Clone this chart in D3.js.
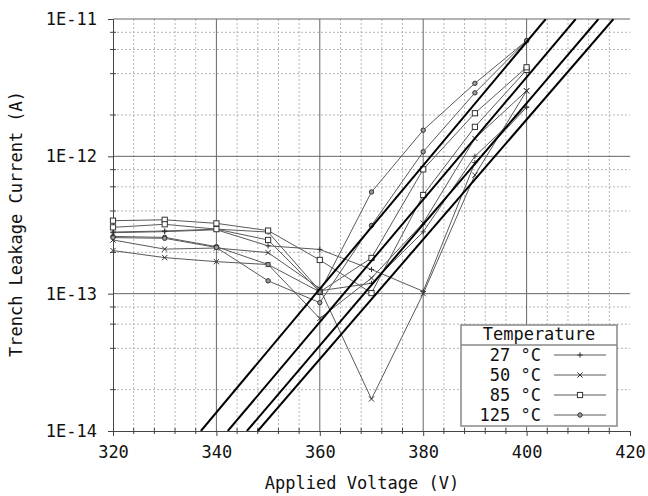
<!DOCTYPE html>
<html>
<head>
<meta charset="utf-8">
<script src="https://cdn.jsdelivr.net/npm/d3@7"></script>
<style>
  body { margin: 0; background: #fff; }
  svg text { font-family: "DejaVu Sans Mono", monospace; fill: #111; }
</style>
</head>
<body>
<svg id="chart" width="648" height="496"></svg>
<script>
// Data
const voltages = [320, 330, 340, 350, 360, 370, 380, 390, 400];
const tempLabels = ['27 °C', '50 °C', '85 °C', '125 °C'];

// two devices per temperature, current in A
const i27a = [2.81e-13, 2.86e-13, 2.95e-13, 2.81e-13, 1.05e-13, 1.19e-13, 2.82e-13, 1.0e-12, 2.28e-12];
const i27b = [2.78e-13, 2.83e-13, 2.92e-13, 2.23e-13, 2.1e-13, 1.5e-13, 1.04e-13, 9.0e-13, 2.28e-12];
const i50a = [2.46e-13, 2.11e-13, 2.15e-13, 1.99e-13, 1.09e-13, 1.71e-14, 1.0e-13, 7.3e-13, 3.0e-12];
const i50b = [2.06e-13, 1.83e-13, 1.71e-13, 1.63e-13, 6.6e-14, 1.3e-13, 3.27e-13, 1.35e-12, 3.0e-12];
const i85a = [3.40e-13, 3.45e-13, 3.25e-13, 2.88e-13, 1.76e-13, 1.01e-13, 5.23e-13, 1.64e-12, 4.26e-12];
const i85b = [3.04e-13, 3.20e-13, 2.95e-13, 2.46e-13, 1.03e-13, 1.82e-13, 8.04e-13, 2.06e-12, 4.45e-12];
const i125a = [2.61e-13, 2.57e-13, 2.20e-13, 1.63e-13, 1.03e-13, 5.5e-13, 1.55e-12, 3.4e-12, 6.95e-12];
const i125b = [2.56e-13, 2.53e-13, 2.17e-13, 1.24e-13, 8.6e-14, 3.14e-13, 1.08e-12, 2.9e-12, 6.95e-12];

// straight exponential fits: voltage where each reaches 1E-14 and 1E-11
const fitAt1e14 = [337.0, 342.2, 345.9, 348.0];
const fitAt1e11 = [403.7, 409.5, 413.9, 416.8];

const xTicks = [320, 340, 360, 380, 400, 420];
const yTicks = [1e-14, 1e-13, 1e-12, 1e-11];
const yTickLabels = ['1E-14', '1E-13', '1E-12', '1E-11'];

// Layout
const config = {
    left: 113, right: 630, top: 19, bottom: 431,
    fontSize: 17,
    lineColor: '#5a5a5a',
    gridMajor: '#666',
    gridMinor: '#b5b5b5'
};

const series = [
    { temp: 0, values: i27a }, { temp: 0, values: i27b },
    { temp: 1, values: i50a }, { temp: 1, values: i50b },
    { temp: 2, values: i85a }, { temp: 2, values: i85b },
    { temp: 3, values: i125a }, { temp: 3, values: i125b }
];

const svg = d3.select('#chart');

const x = d3.scaleLinear().domain([320, 420]).range([config.left, config.right]);
const y = d3.scaleLog().domain([1e-14, 1e-11]).range([config.bottom, config.top]);

// minor grid values
const xMinor = d3.range(320, 421, 4).filter(v => v % 20 !== 0);
const yMinor = [];
[1e-14, 1e-13, 1e-12].forEach(d => [2, 4, 6, 8].forEach(m => yMinor.push(d * m)));

const grid = svg.append('g');
grid.selectAll('.vminor').data(xMinor).enter().append('line')
    .attr('x1', d => x(d)).attr('x2', d => x(d))
    .attr('y1', config.top).attr('y2', config.bottom)
    .attr('stroke', config.gridMinor).attr('stroke-dasharray', '2,2');
grid.selectAll('.hminor').data(yMinor).enter().append('line')
    .attr('x1', config.left).attr('x2', config.right)
    .attr('y1', d => y(d)).attr('y2', d => y(d))
    .attr('stroke', config.gridMinor).attr('stroke-dasharray', '2,2');
grid.selectAll('.vmajor').data([340, 360, 380, 400]).enter().append('line')
    .attr('x1', d => x(d)).attr('x2', d => x(d))
    .attr('y1', config.top).attr('y2', config.bottom)
    .attr('stroke', config.gridMajor);
grid.selectAll('.hmajor').data([1e-13, 1e-12, 1e-11]).enter().append('line')
    .attr('x1', config.left).attr('x2', config.right)
    .attr('y1', d => y(d)).attr('y2', d => y(d))
    .attr('stroke', config.gridMajor);

// axes
const xAxis = svg.append('g').attr('transform', `translate(0,${config.bottom})`)
    .call(d3.axisBottom(x).tickValues(xTicks).tickSize(5).tickPadding(10).tickFormat(d3.format('d')));
const xMinorAxis = svg.append('g').attr('transform', `translate(0,${config.bottom})`);
xMinorAxis.selectAll('line').data(xMinor).enter().append('line')
    .attr('x1', d => x(d)).attr('x2', d => x(d)).attr('y1', -3).attr('y2', 3)
    .attr('stroke', '#444');
const yAxis = svg.append('g').attr('transform', `translate(${config.left},0)`)
    .call(d3.axisLeft(y).tickValues(yTicks).tickSize(5).tickPadding(11)
        .tickFormat((d, i) => yTickLabels[i]));
const yMinorAxis = svg.append('g').attr('transform', `translate(${config.left},0)`);
yMinorAxis.selectAll('line').data(yMinor).enter().append('line')
    .attr('y1', d => y(d)).attr('y2', d => y(d)).attr('x1', -3).attr('x2', 3)
    .attr('stroke', '#444');

[xAxis, yAxis].forEach(a => {
    a.select('.domain').attr('stroke', '#444');
    a.selectAll('.tick line').attr('stroke', '#444');
    a.selectAll('.tick text')
        .attr('font-family', 'DejaVu Sans Mono')
        .attr('font-size', config.fontSize)
        .attr('fill', '#111');
});

// data lines
const lineGen = d3.line().x((d, i) => x(voltages[i])).y(d => y(d));
const plot = svg.append('g');
plot.selectAll('.series').data(series).enter().append('path')
    .attr('d', d => lineGen(d.values))
    .attr('fill', 'none')
    .attr('stroke', config.lineColor)
    .attr('stroke-width', 1);

// marker drawing
function drawMarker(g, type, cx, cy) {
    const s = 2.6;
    if (type === 0) {
        g.append('path').attr('d', `M${cx - s},${cy}H${cx + s}M${cx},${cy - s}V${cy + s}`)
            .attr('stroke', '#333').attr('fill', 'none');
    } else if (type === 1) {
        g.append('path').attr('d', `M${cx - s},${cy - s}L${cx + s},${cy + s}M${cx - s},${cy + s}L${cx + s},${cy - s}`)
            .attr('stroke', '#333').attr('fill', 'none');
    } else if (type === 2) {
        g.append('rect').attr('x', cx - s).attr('y', cy - s).attr('width', 2 * s).attr('height', 2 * s)
            .attr('stroke', '#333').attr('fill', '#fff');
    } else {
        g.append('circle').attr('cx', cx).attr('cy', cy).attr('r', 2.2)
            .attr('stroke', '#333').attr('fill', '#999');
    }
}

const markers = svg.append('g');
series.forEach(s => {
    s.values.forEach((v, i) => drawMarker(markers, s.temp, x(voltages[i]), y(v)));
});

// fit lines
svg.append('defs').append('clipPath').attr('id', 'clip').append('rect')
    .attr('x', config.left).attr('y', config.top)
    .attr('width', config.right - config.left).attr('height', config.bottom - config.top);
svg.append('g').attr('clip-path', 'url(#clip)')
    .selectAll('line').data(fitAt1e14).enter().append('line')
    .attr('x1', d => x(d)).attr('y1', y(1e-14))
    .attr('x2', (d, i) => x(fitAt1e11[i])).attr('y2', y(1e-11))
    .attr('stroke', '#000').attr('stroke-width', 2);

// axis titles
svg.append('text')
    .attr('x', 362).attr('y', 489)
    .attr('text-anchor', 'middle')
    .attr('font-size', config.fontSize)
    .text('Applied Voltage (V)');
svg.append('text')
    .attr('transform', 'translate(22,224) rotate(-90)')
    .attr('text-anchor', 'middle')
    .attr('font-size', config.fontSize)
    .text('Trench Leakage Current (A)');

// legend
const legend = svg.append('g');
legend.append('rect')
    .attr('x', 461).attr('y', 325).attr('width', 156).attr('height', 101)
    .attr('fill', '#fff').attr('stroke', '#888').attr('stroke-width', 1.5);
legend.append('line')
    .attr('x1', 461).attr('x2', 617).attr('y1', 345).attr('y2', 345)
    .attr('stroke', '#888').attr('stroke-width', 1.5);
legend.append('text')
    .attr('x', 539).attr('y', 340).attr('text-anchor', 'middle')
    .attr('font-size', config.fontSize)
    .text('Temperature');
tempLabels.forEach((t, i) => {
    const ly = 355 + i * 20;
    legend.append('text')
        .attr('x', 541).attr('y', ly + 6).attr('text-anchor', 'end')
        .attr('font-size', config.fontSize)
        .text(t);
    legend.append('line')
        .attr('x1', 554).attr('x2', 606).attr('y1', ly).attr('y2', ly)
        .attr('stroke', config.lineColor);
    drawMarker(legend, i, 580, ly);
});
</script>
</body>
</html>
